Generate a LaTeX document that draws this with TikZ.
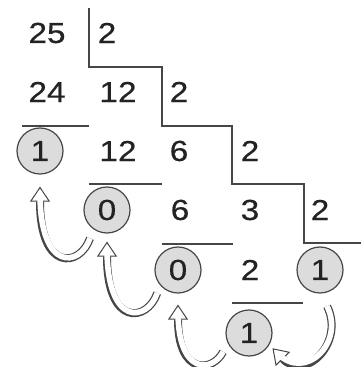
\documentclass[tikz,border=0pt]{standalone}
\usepackage{fontspec}
\setmainfont{Liberation Sans}
\newfontfamily\digitfont[FakeBold=0.5,FakeStretch=1.15]{Liberation Sans}
\usetikzlibrary{arrows.meta,calc}
\definecolor{DivInk}{RGB}{35,35,35}
\definecolor{DivLine}{RGB}{70,70,70}
\definecolor{DivFill}{RGB}{220,220,220}

\begin{document}
\begin{tikzpicture}[x=1pt,y=1pt,
        num/.style={font=\digitfont\fontsize{29}{31}\selectfont,text=DivInk,inner sep=0pt},
        rem/.style={num,circle,draw=DivLine,fill=DivFill,line width=1.2pt,minimum size=46pt},
        bar/.style={DivLine,line width=1.5pt},
        hollow/.style={line width=8pt,draw=DivLine,
                       -{Triangle[open,fill=white,length=15pt,width=20pt,line width=1pt]},
                       postaction={draw=white,line width=5.6pt,arrows=-,shorten >=7pt}}
      ]
        \useasboundingbox (0,0) rectangle (361,367);
        % dividends, quotients and divisors
        \node[num] (n25) at (47,334) {25};
        \node[num] (d1) at (107,334) {2};
        \node[num] (n24) at (47,275) {24};
        \node[num] (q12) at (118,275) {12};
        \node[num] (d2) at (179,275) {2};
        \node[rem] (c3) at (40,216) {1};
        \node[num] (n12) at (118,216) {12};
        \node[num] (q6) at (179,216) {6};
        \node[num] (d3) at (250,216) {2};
        \node[rem] (c4) at (107,157) {0};
        \node[num] (n6) at (180,157) {6};
        \node[num] (q3) at (250,157) {3};
        \node[num] (d4) at (320,157) {2};
        \node[rem] (c5) at (178,97) {0};
        \node[num] (n2) at (250,97) {2};
        \node[rem] (c5r) at (320,97) {1};
        \node[rem] (c6) at (249,34) {1};
        % staircase and underlines
        \draw[bar] (89,359) |- (162,300) |- (232,241) |- (304,183) |- (361,124);
        \draw[bar] (22,241) -- (89,241);
        \draw[bar] (89,183) -- (162,183);
        \draw[bar] (162,123) -- (233,123);
        \draw[bar] (232,64) -- (303,64);
        % reading the remainders
        \draw[hollow] ($(c4)+(239:33)$) .. controls +(-10,-29) and +(0,-86) .. ([yshift=-12pt]c3.south);
        \draw[hollow] ($(c5)+(228:31)$) .. controls +(-10,-29) and +(0,-86) .. ([yshift=-8pt]c4.south);
        \draw[hollow] ($(c6)+(216:32)$) .. controls +(-10,-20) and +(0,-72) .. ([yshift=-11pt]c5.south);
        \draw[hollow] ($(c5r)+(-79:37)$) .. controls +(18,-36) and +(33,-34) .. ($(c6)+(-33:28)$);
      \end{tikzpicture}
\end{document}
